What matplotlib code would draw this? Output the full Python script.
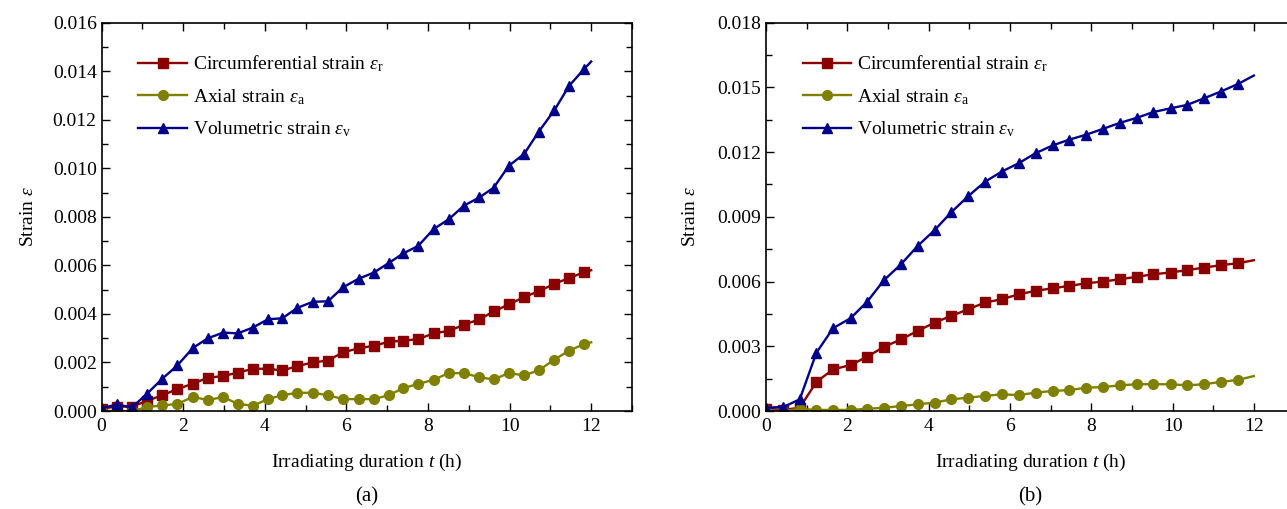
import numpy as np
import matplotlib
matplotlib.use("Agg")
from matplotlib import pyplot as plt
from matplotlib.ticker import MultipleLocator, FormatStrFormatter

plt.rcParams['font.family'] = 'Liberation Serif'
plt.rcParams['mathtext.fontset'] = 'custom'
plt.rcParams['mathtext.rm'] = 'Liberation Serif'
plt.rcParams['mathtext.it'] = 'Liberation Serif:italic'
plt.rcParams['font.size'] = 14

# ---- panel (a) ----
t_a = [0, 0.37, 0.75, 1.12, 1.49, 1.86, 2.24, 2.61, 2.98, 3.34, 3.71, 4.08, 4.43,
       4.80, 5.18, 5.55, 5.92, 6.30, 6.67, 7.04, 7.40, 7.76, 8.14, 8.51, 8.88,
       9.26, 9.61, 9.98, 10.36, 10.71, 11.10, 11.46, 11.83, 12.0]
circ_a = [0.0001, 0.00018, 0.00018, 0.00042, 0.00065, 0.0009, 0.00113, 0.00137,
          0.00144, 0.00158, 0.00174, 0.00174, 0.00167, 0.00185, 0.0020, 0.00208,
          0.00242, 0.00258, 0.00269, 0.00285, 0.0029, 0.00296, 0.0032, 0.0033,
          0.00355, 0.00378, 0.0041, 0.00439, 0.0047, 0.00493, 0.00524, 0.00548,
          0.00572, 0.0058]
axial_a = [0.0, 0.0, 0.0, 0.00016, 0.00023, 0.00029, 0.00058, 0.00045, 0.00058,
           0.00029, 0.00022, 0.00049, 0.00065, 0.00075, 0.00075, 0.00065, 0.00049,
           0.00049, 0.00049, 0.00065, 0.00095, 0.00111, 0.00129, 0.00156, 0.00156,
           0.00139, 0.0013, 0.00156, 0.00147, 0.00167, 0.00212, 0.00249, 0.00276,
           0.00283]
vol_a = [0.0001, 0.00027, 0.00015, 0.00072, 0.00133, 0.00188, 0.0026, 0.0030,
         0.00323, 0.0032, 0.00344, 0.00378, 0.00382, 0.00425, 0.0045, 0.00452,
         0.0051, 0.00545, 0.0057, 0.0061, 0.0065, 0.0068, 0.0075, 0.0079, 0.00846,
         0.0088, 0.0092, 0.0101, 0.0106, 0.0115, 0.0124, 0.0134, 0.0141, 0.0144]

# ---- panel (b) ----
t_b = [0, 0.43, 0.83, 1.24, 1.65, 2.08, 2.49, 2.90, 3.32, 3.73, 4.15, 4.56, 4.98,
       5.39, 5.80, 6.22, 6.63, 7.05, 7.46, 7.88, 8.29, 8.71, 9.12, 9.53, 9.95,
       10.36, 10.78, 11.19, 11.61, 12.0]
circ_b = [0.0001, 0.00005, 0.00015, 0.00135, 0.00193, 0.00213, 0.00252, 0.00297,
          0.00332, 0.00371, 0.0041, 0.00441, 0.00472, 0.00503, 0.00518, 0.00541,
          0.00557, 0.00569, 0.0058, 0.00592, 0.0060, 0.00611, 0.00622, 0.00634,
          0.00642, 0.00653, 0.00665, 0.00676, 0.00685, 0.00699]
axial_b = [0.00003, 0.0, 0.0001, 0.00005, 0.00005, 0.00005, 0.0001, 0.00015,
           0.00023, 0.00031, 0.00039, 0.00054, 0.00062, 0.0007, 0.00077, 0.00074,
           0.00085, 0.00093, 0.00097, 0.00108, 0.00111, 0.00119, 0.00124, 0.00124,
           0.00124, 0.00119, 0.00124, 0.00135, 0.00144, 0.00162]
vol_b = [0.00015, 0.00019, 0.00054, 0.0027, 0.00384, 0.0043, 0.00507, 0.00606,
         0.0068, 0.00765, 0.00839, 0.00922, 0.00997, 0.01063, 0.0111, 0.01149,
         0.01195, 0.01231, 0.01258, 0.01281, 0.01308, 0.01336, 0.01359, 0.01386,
         0.01403, 0.01419, 0.0145, 0.01481, 0.01516, 0.01555]

labels = [r'Circumferential strain $\varepsilon_{\mathrm{r}}$',
          r'Axial strain $\varepsilon_{\mathrm{a}}$',
          r'Volumetric strain $\varepsilon_{\mathrm{v}}$']
colors = ['#8B0000', '#808000', '#00008B']
markers = ['s', 'o', '^']
msizes = [6.5, 7, 7.5]

W, H = 1287, 509
fig = plt.figure(figsize=(W / 100, H / 100), dpi=100)
ax1 = fig.add_axes([101.5 / W, (H - 411) / H, 530.5 / W, 388.3 / H])
ax2 = fig.add_axes([766 / W, (H - 411) / H, 528.5 / W, 388.3 / H])


def draw(ax, t, series, ymax, ymaj, tag, ylab_x):
    for y, c, m, ms, lab in zip(series, colors, markers, msizes, labels):
        ax.plot(t, y, color=c, lw=1.7, marker=m, ms=ms,
                markevery=slice(0, len(t) - 1), label=lab)
    ax.set_xlim(0, 13)
    ax.set_ylim(0, ymax)
    ax.xaxis.set_major_locator(MultipleLocator(2))
    ax.xaxis.set_minor_locator(MultipleLocator(1))
    ax.yaxis.set_major_locator(MultipleLocator(ymaj))
    ax.yaxis.set_minor_locator(MultipleLocator(ymaj / 2))
    ax.yaxis.set_major_formatter(FormatStrFormatter('%.3f'))
    ax.tick_params(which='both', direction='in', top=True, right=True, width=1)
    ax.tick_params(which='major', length=6)
    ax.tick_params(which='minor', length=4)
    ax.tick_params(axis='x', which='major', pad=5)
    for s in ax.spines.values():
        s.set_linewidth(1.2)
    ax.set_xlabel(r'Irradiating duration $t$ (h)')
    ax.set_ylabel(r'Strain $\varepsilon$')
    ax.yaxis.set_label_coords(ylab_x, 0.5)
    ax.xaxis.set_label_coords(0.5, -0.105)
    ax.text(0.5, -0.222, tag, transform=ax.transAxes, ha='center', va='center',
            fontsize=15)
    ax.legend(loc='upper left', bbox_to_anchor=(0.055, 0.94), frameon=False,
              handlelength=2.5, handletextpad=0.28, labelspacing=0.65,
              borderaxespad=0)


draw(ax1, t_a, [circ_a, axial_a, vol_a], 0.016, 0.002, '(a)', -0.121)
draw(ax2, t_b, [circ_b, axial_b, vol_b], 0.018, 0.003, '(b)', -0.127)

fig.savefig('out.png', dpi=100)
